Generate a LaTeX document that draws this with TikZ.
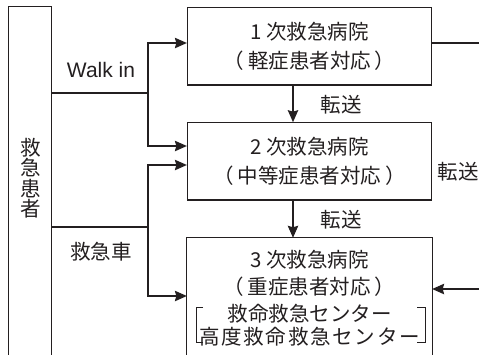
\documentclass[tikz,border=0pt]{standalone}
\usepackage{fontspec}
\setmainfont{Noto Sans CJK JP}
\newfontfamily\latinsf{Liberation Sans}
\newfontfamily\jpwide[LetterSpace=8.5]{Noto Sans CJK JP}
\usetikzlibrary{arrows.meta}
\definecolor{ink}{HTML}{231F20}
\newcommand{\jpbig}{\fontsize{20.5}{29}\selectfont}
\newcommand{\pp}{\hspace{4pt}}
\begin{document}
\begin{tikzpicture}[x=1pt,y=-1pt,line width=1.1pt,draw=ink,text=ink,
  box/.style={draw, minimum width=244.2pt, inner sep=0pt, align=center, font=\jpbig},
  frame/.style={draw=none, inner sep=0pt},
  lbl/.style={inner sep=0pt, font=\jpbig},
  arr/.style={-{Stealth[length=12pt,width=10.5pt,inset=1.5pt]}},
  brk/.style={line width=1pt}]
\useasboundingbox (0,0) rectangle (479,354);

% hospitals
\node[box, minimum height=77.5pt] (box1) at (309.5,46.25) {1 次救急病院\\（\pp 軽症患者対応\pp ）};
\node[box, minimum height=77.3pt] (box2) at (309.5,161.35) {2 次救急病院\\（\pp 中等症患者対応\pp ）};
\node[frame, minimum width=244.2pt, minimum height=141.7pt] (box3) at (309.5,309.15) {};
\draw (box3.south west) |- (box3.north) -| (box3.south east);
\node[lbl, align=center, font=\fontsize{20.5}{27}\selectfont] (t3) at (309.5,298.5)
  {3 次救急病院\\（\pp 重症患者対応\pp ）\\救命救急センター\\[-4pt]{\jpwide 高度救命救急センター}};
\draw[brk] (203,307.7) -- (196.3,307.7) -- (196.3,342.7) -- (203,342.7);
\draw[brk] (417,307.7) -- (425,307.7) -- (425,342.7) -- (417,342.7);

% patient column
\node[frame, minimum width=41.7pt, minimum height=372.7pt] (pat) at (30.15,193.65) {};
\draw (pat.south west) |- (pat.north) -| (pat.south east);
\node[lbl, align=center, font=\fontsize{20.5}{20.4}\selectfont] (ptxt) at (31,178) {救\\急\\患\\者};

% routes
\coordinate (wj) at (148,93);
\coordinate (aj) at (148,227);
\coordinate (ya) at (0,43);
\coordinate (yb) at (0,146);
\coordinate (yc) at (0,165);
\coordinate (ye) at (0,296);
\draw (pat.east |- wj) -- (wj);
\draw[arr] (wj) |- (box1.west |- ya);
\draw[arr] (wj) |- (box2.west |- yb);
\draw (pat.east |- aj) -- (aj);
\draw[arr] (aj) |- (box2.west |- yc);
\draw[arr] (aj) |- (box3.west |- ye);
\node[inner sep=0pt, font=\latinsf\fontsize{21}{21}\selectfont] (walk) at (101,70) {Walk in};
\node[lbl] (amb) at (101,252) {救急車};

% transfers
\coordinate (vx) at (293,0);
\draw[arr] (box1.south -| vx) -- (box2.north -| vx);
\draw[arr] (box2.south -| vx) -- (box3.north -| vx);
\node[lbl] (tr1) at (341,104.5) {転送};
\node[lbl] (tr2) at (341,220) {転送};
\coordinate (r1) at (482,43);
\coordinate (r3) at (482,289);
\draw (box1.east |- r1) -- (r1);
\draw[arr] (r3) -- (box3.east |- r3);
\node[lbl] (tr3) at (458,172) {転送};
\end{tikzpicture}
\end{document}
